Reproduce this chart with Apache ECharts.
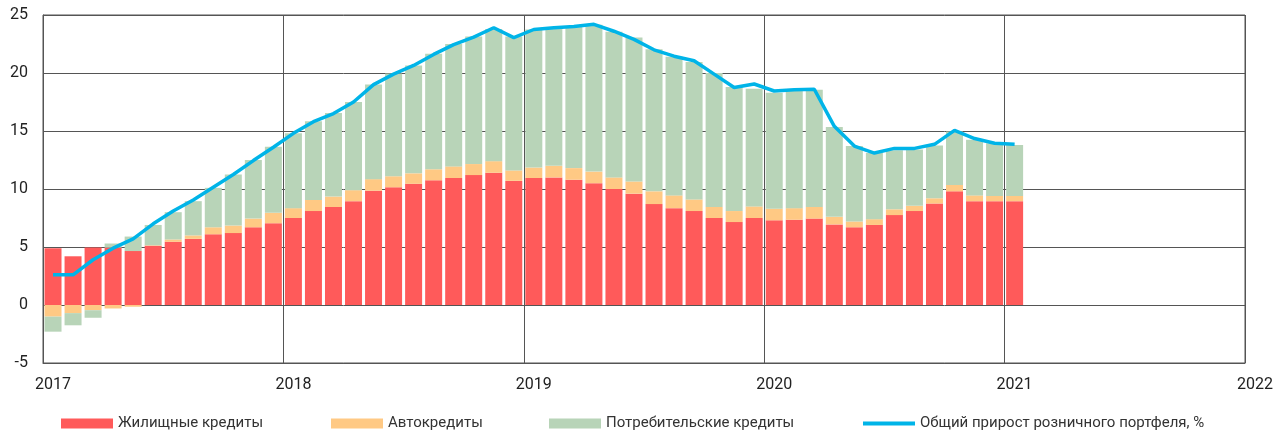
<!DOCTYPE html>
<html>
<head>
<meta charset="utf-8">
<script src="https://cdn.jsdelivr.net/npm/echarts@6/dist/echarts.min.js"></script>
<style>
html,body{margin:0;padding:0;background:#fff;}
#chart{width:1285px;height:437px;}
</style>
</head>
<body>
<div id="chart"></div>
<script>
// monthly slots of the time axis (2017-01 .. 2021-12)
const axisMonths = [
 '2017-01','2017-02','2017-03','2017-04','2017-05','2017-06','2017-07','2017-08','2017-09','2017-10','2017-11','2017-12',
 '2018-01','2018-02','2018-03','2018-04','2018-05','2018-06','2018-07','2018-08','2018-09','2018-10','2018-11','2018-12',
 '2019-01','2019-02','2019-03','2019-04','2019-05','2019-06','2019-07','2019-08','2019-09','2019-10','2019-11','2019-12',
 '2020-01','2020-02','2020-03','2020-04','2020-05','2020-06','2020-07','2020-08','2020-09','2020-10','2020-11','2020-12',
 '2021-01','2021-02','2021-03','2021-04','2021-05','2021-06','2021-07','2021-08','2021-09','2021-10','2021-11','2021-12'
];
// data from 2017-01 to 2021-01
const housing = [
 4.9,4.2,4.95,4.95,4.65,5.1,5.45,5.7,6.1,6.2,6.7,7.05,
 7.5,8.1,8.45,8.95,9.85,10.15,10.45,10.75,10.95,11.2,11.4,10.7,
 10.95,11.0,10.8,10.5,10.0,9.6,8.7,8.35,8.1,7.5,7.15,7.5,
 7.3,7.35,7.45,6.95,6.7,6.9,7.75,8.1,8.75,9.8,8.95,8.95,
 8.95
];
const auto = [
 -1.0,-0.7,-0.45,-0.3,-0.15,0.05,0.2,0.3,0.6,0.65,0.75,0.9,
 0.85,0.95,0.9,0.95,1.0,0.95,0.9,0.95,1.0,0.95,1.0,0.9,
 0.9,1.0,1.0,1.0,1.0,1.05,1.1,1.1,1.0,0.95,0.95,1.0,
 1.0,1.0,1.0,0.65,0.5,0.5,0.5,0.45,0.45,0.55,0.5,0.45,
 0.45
];
const consumer = [
 -1.3,-1.05,-0.65,0.35,1.25,1.75,2.35,2.95,3.4,4.4,5.05,5.7,
 6.45,6.8,7.2,7.6,8.15,8.85,9.3,9.95,10.55,11.0,11.4,11.55,
 11.9,11.95,12.2,12.65,12.55,12.4,12.25,11.95,11.85,11.55,10.7,10.15,
 10.0,10.1,10.1,7.75,6.5,5.7,5.1,4.85,4.55,4.6,4.8,4.55,
 4.4
];
const total = [
 2.6,2.6,3.9,4.9,5.7,7.0,8.1,9.05,10.15,11.25,12.45,13.6,
 14.8,15.8,16.5,17.5,19.0,19.9,20.65,21.6,22.45,23.1,23.9,23.05,
 23.75,23.9,24.0,24.2,23.6,22.9,22.0,21.45,21.05,19.9,18.75,19.05,
 18.45,18.55,18.6,15.4,13.7,13.1,13.5,13.5,13.85,15.05,14.35,13.95,
 13.85
];
const yearLabels = ['2017','2018','2019','2020','2021','2022'];
const seriesNames = ['Жилищные кредиты','Автокредиты','Потребительские кредиты','Общий прирост розничного портфеля, %'];

const axisFont = "'Roboto',sans-serif";
const legendFont = "'Roboto',sans-serif";
const gridColor = '#555555';

const chart = echarts.init(document.getElementById('chart'), null, {renderer:'canvas'});
const legendBase = {
  itemGap: 5, padding: 0,
  textStyle: {fontFamily: legendFont, fontSize: 15, color: '#333'}
};
chart.setOption({
  animation: false,
  grid: {left: 43, right: 40, top: 15, bottom: 74, show: true, borderColor: gridColor, borderWidth: 1},
  legend: [
    Object.assign({left: 61, top: 416, itemWidth: 52, itemHeight: 10, data: [{name: seriesNames[0], icon:'rect'}]}, legendBase),
    Object.assign({left: 331, top: 416, itemWidth: 52, itemHeight: 10, data: [{name: seriesNames[1], icon:'rect'}]}, legendBase),
    Object.assign({left: 549, top: 416, itemWidth: 52, itemHeight: 10, data: [{name: seriesNames[2], icon:'rect'}]}, legendBase),
    Object.assign({left: 863, top: 416, itemWidth: 52, itemHeight: 4, data: [{name: seriesNames[3], icon:'rect'}]}, legendBase)
  ],
  xAxis: [
    {
      type: 'category', data: axisMonths, boundaryGap: true,
      axisLine: {show: false}, axisTick: {show: false}, axisLabel: {show: false}, splitLine: {show: false}
    },
    {
      type: 'value', min: 0, max: axisMonths.length, interval: 12, position: 'bottom',
      axisLine: {show: true, lineStyle: {color: gridColor}},
      axisTick: {show: false},
      splitLine: {show: true, lineStyle: {color: gridColor, width: 1}},
      axisLabel: {
        formatter: v => yearLabels[Math.round(v / 12)],
        fontFamily: axisFont, fontSize: 16, color: '#222',
        margin: 14, padding: [0,0,0,20]
      }
    }
  ],
  yAxis: {
    type: 'value', min: -5, max: 25, interval: 5,
    axisLine: {show: true, lineStyle: {color: gridColor}},
    axisTick: {show: false},
    splitLine: {show: true, lineStyle: {color: gridColor, width: 1}},
    axisLabel: {fontFamily: axisFont, fontSize: 16, color: '#222', margin: 15}
  },
  series: [
    {name: seriesNames[0], type: 'bar', stack: 'a', barWidth: 17, xAxisIndex: 0, data: housing,
     itemStyle: {color: '#FF5A5A'}},
    {name: seriesNames[1], type: 'bar', stack: 'a', barWidth: 17, xAxisIndex: 0, data: auto,
     itemStyle: {color: '#FFC984'}},
    {name: seriesNames[2], type: 'bar', stack: 'a', barWidth: 17, xAxisIndex: 0, data: consumer,
     itemStyle: {color: '#B8D4B8'}},
    {name: seriesNames[3], type: 'line', xAxisIndex: 0, data: total, symbol: 'none', z: 5,
     lineStyle: {color: '#00B4E8', width: 3.5}, itemStyle: {color: '#00B4E8'}}
  ]
});
</script>
</body>
</html>
